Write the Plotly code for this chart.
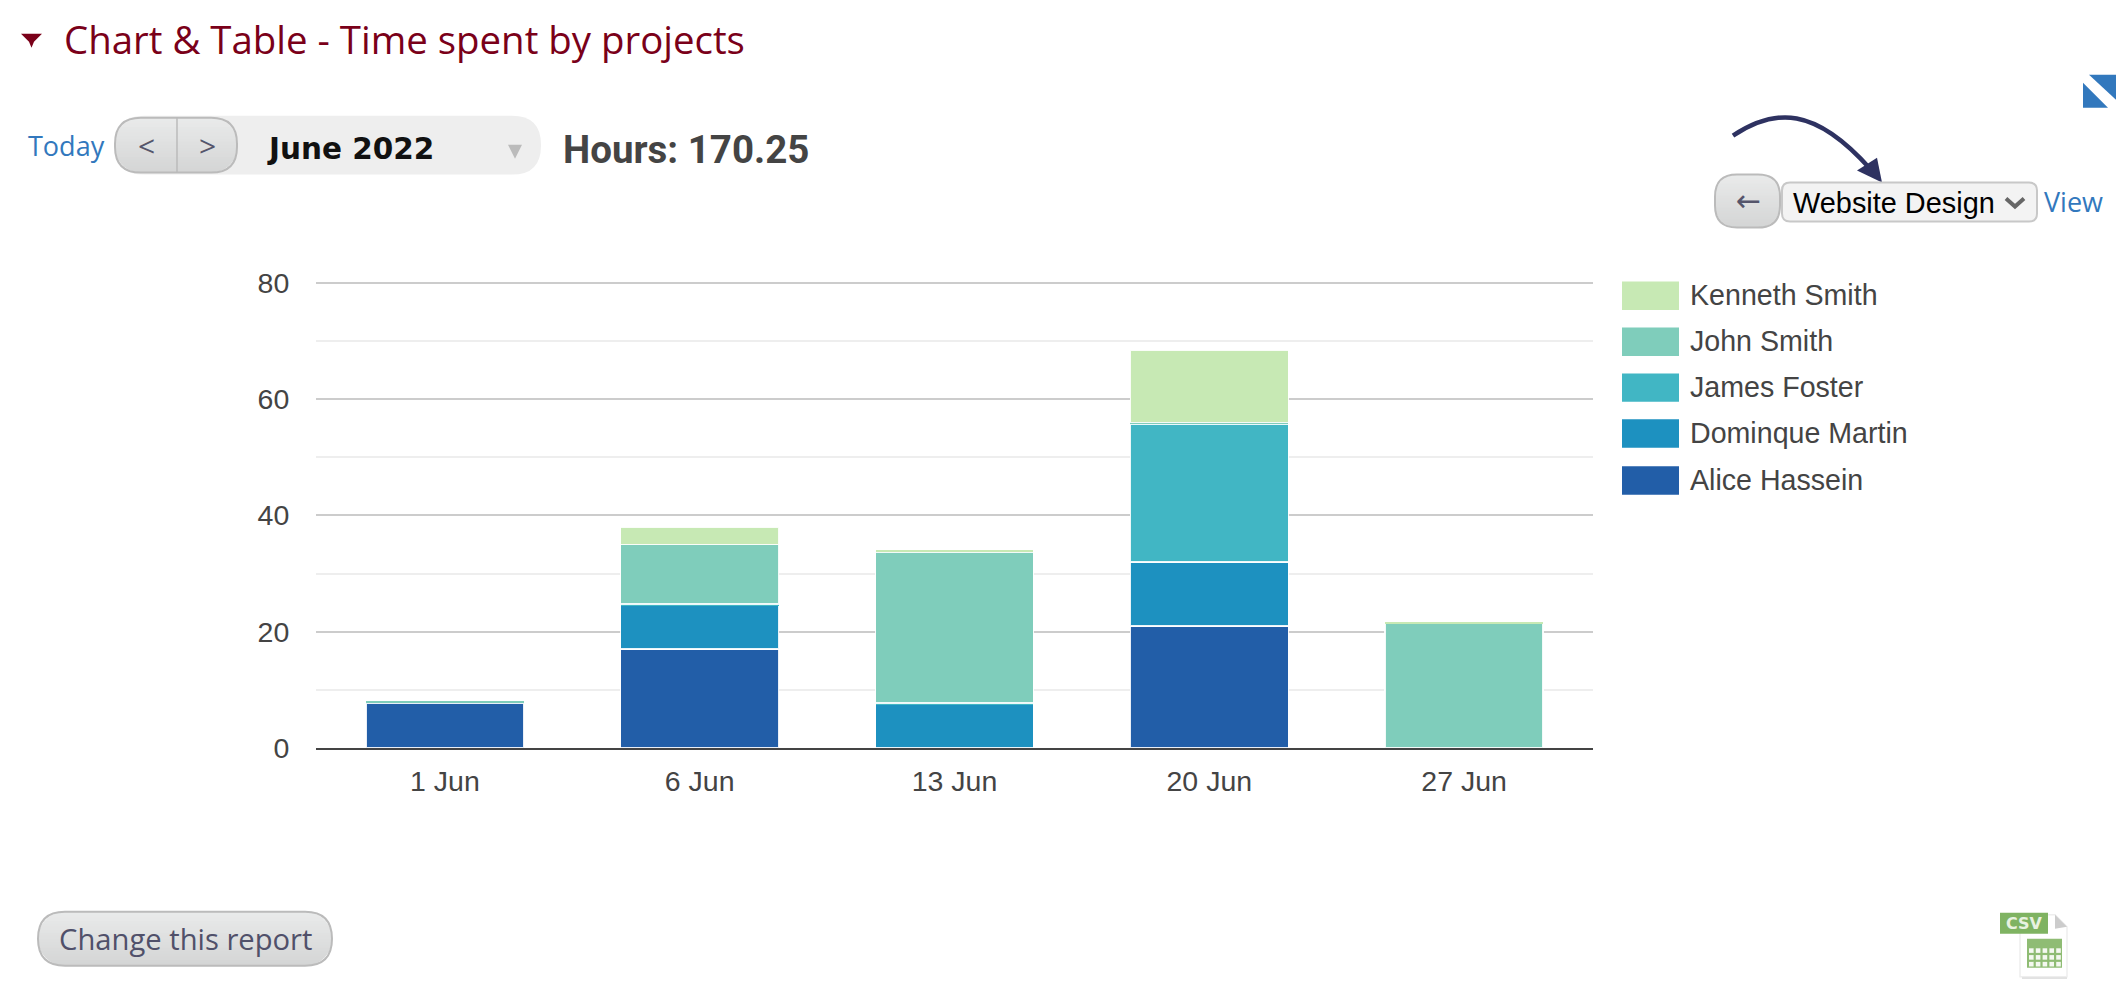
import math
import plotly.graph_objects as go

# dados
categorias = ["1 Jun", "6 Jun", "13 Jun", "20 Jun", "27 Jun"]
alice = [7.75, 17, None, 21, None]
dominique = [None, 7.5, 7.5, 11, None]
james = [None, 0.25, 0.25, 23.75, None]
john = [0.25, 10.25, 26, 0.25, 21.5]
kenneth = [None, 3, 0.25, 12.5, 0.25]

nomes = ["Alice Hassein", "Dominque Martin", "James Foster", "John Smith", "Kenneth Smith"]
cores = ["#225EA8", "#1D91C0", "#41B6C4", "#7FCDBB", "#C7E9B4"]
series = [alice, dominique, james, john, kenneth]

# area do grafico em pixels da pagina
L, R, T, B = 316, 1593, 280.5, 748
W, H = 2128, 996


def px(x):
    return (x - L) / (R - L)


def py(y):
    return (B - y) / (B - T)


def caminho(pontos, fechar=True):
    s = "M " + " L ".join(f"{px(x):.5f},{py(y):.5f}" for x, y in pontos)
    return s + (" Z" if fechar else "")


def ret_redondo(x0, y0, x1, y1, r):
    c = lambda x, y: f"{px(x):.5f},{py(y):.5f}"
    return (
        f"M {c(x0 + r, y0)} L {c(x1 - r, y0)} Q {c(x1, y0)} {c(x1, y0 + r)} "
        f"L {c(x1, y1 - r)} Q {c(x1, y1)} {c(x1 - r, y1)} "
        f"L {c(x0 + r, y1)} Q {c(x0, y1)} {c(x0, y1 - r)} "
        f"L {c(x0, y0 + r)} Q {c(x0, y0)} {c(x0 + r, y0)} Z"
    )


formas = []
textos = []


def forma(path, fill="rgba(0,0,0,0)", borda=None, larg=0):
    formas.append(dict(
        type="path", xref="paper", yref="paper", path=path, fillcolor=fill,
        line=dict(color=borda if borda else "rgba(0,0,0,0)", width=larg),
    ))


def texto(x, y, t, size, cor, fonte="Liberation Sans", anchor="left"):
    textos.append(dict(
        x=px(x), y=py(y), xref="paper", yref="paper", text=t, showarrow=False,
        xanchor=anchor, yanchor="middle", borderpad=0,
        font=dict(family=fonte, size=size, color=cor),
    ))


def recuo(y, y0, y1, r):
    # quanto o contorno arredondado entra na altura y
    d = max(r - (y - y0), r - (y1 - y), 0)
    return r - math.sqrt(max(r * r - d * d, 0))


def botao(x0, y0, x1, y1, r, borda, passo=3):
    # os botoes tem um degrade vertical, feito aqui com faixas
    y = y0
    while y < y1:
        t = (y - y0) / (y1 - y0)
        v = round(233 - t * (233 - 211))
        cor = f"rgb({v},{v + 1},{v + 1})"
        fim = min(y + passo + 1, y1)
        esq = []
        dir_ = []
        ya = y
        while ya <= fim:
            rec = recuo(ya, y0, y1, r)
            esq.append((x0 + rec, ya))
            dir_.append((x1 - rec, ya))
            ya += 1
        forma(caminho(esq + dir_[::-1]), cor)
        y += passo
    forma(ret_redondo(x0, y0, x1, y1, r), borda=borda, larg=2)


fig = go.Figure()
for nome, cor, valores in zip(nomes, cores, series):
    # segmentos muito finos ficam sem contorno, senao o branco os cobre
    contorno = [0 if v is not None and v < 1 else 1.5 for v in valores]
    fig.add_trace(go.Bar(
        x=categorias, y=valores, name=nome,
        marker=dict(color=cor, line=dict(color="rgba(255,255,255,0.9)", width=contorno)),
    ))

# <===== titulo =====>
VINHO = "#7A0019"
AZUL = "#3278BD"
BORDA_BTN = "#BBBBBB"
GLIFO = "#55556B"
forma(caminho([(21, 33), (42, 33), (34, 41), (31.5, 47), (29, 41)]), VINHO)
texto(63, 38, "Chart &amp; Table - Time spent by projects", 38.4, VINHO, "Open Sans")

# <===== linha do mes =====>
texto(27, 145, "Today", 27, AZUL, "Open Sans")
forma(ret_redondo(115, 115, 541, 174, 29), "#EEEEEE")
botao(115, 117, 237, 172, 26, BORDA_BTN)
forma(caminho([(177, 117), (177, 172)], False), borda=BORDA_BTN, larg=1.5)
texto(146, 145, "&lt;", 30, GLIFO, "Open Sans", "center")
texto(207, 145, "&gt;", 30, GLIFO, "Open Sans", "center")
texto(266, 148, "<b>June 2022</b>", 29.5, "#111111", "DejaVu Sans")
forma(caminho([(508, 144), (522, 144), (515, 158)]), "#BBBBBB")
texto(562, 149, "<b>Hours: 170.25</b>", 38.5, "#444444", "Roboto")

# <===== canto direito =====>
forma(caminho([(2089, 74), (2116, 74), (2116, 99)]), AZUL)
forma(caminho([(2083, 82), (2108, 107), (2083, 107)]), AZUL)

forma(
    f"M {px(1733):.5f},{py(135):.5f} C {px(1775):.5f},{py(107):.5f} "
    f"{px(1815):.5f},{py(106):.5f} {px(1870):.5f},{py(168):.5f}",
    borda="#2E3261", larg=4.5,
)
forma(caminho([(1877, 157), (1857, 170), (1882, 182)]), "#2E3261")

botao(1715, 174, 1780, 227, 22, BORDA_BTN)
texto(1748, 200, "←", 30, GLIFO, "DejaVu Sans", "center")
forma(ret_redondo(1782, 182, 2037, 221, 8), "#F3F3F3", "#C8C8C8", 2)
texto(1792, 202, "Website Design", 28.9, "#000000")
forma(caminho([(2006, 198), (2015, 206), (2024, 198)], False), borda="#666666", larg=4)
texto(2043, 201, "View", 27, AZUL, "Open Sans")

# <===== legenda =====>
topos = [281, 327, 373, 419, 466]
for topo, nome, cor in zip(topos, nomes[::-1], cores[::-1]):
    forma(caminho([(1622, topo), (1679, topo), (1679, topo + 28.5), (1622, topo + 28.5)]), cor)
    texto(1688.5, topo + 14, nome, 28.6, "#444444")

# <===== rodape =====>
botao(38, 912, 332, 966, 27, BORDA_BTN)
texto(58, 939, "Change this report", 29.2, "#50506A", "Open Sans")

# icone csv
forma(caminho([(2022, 974), (2067, 974), (2067, 979), (2022, 979)]), "#D8D8D8")
forma(caminho([(2020, 915), (2055, 915), (2067, 927), (2067, 977), (2020, 977)]), "#FFFFFF", "#EEEEEE", 1.5)
forma(caminho([(2055, 915), (2067, 927), (2055, 929)]), "#CCCCCC")
forma(caminho([(2027, 939), (2062, 939), (2062, 968), (2027, 968)]), "#8FBC74")
for linha in range(3):
    for coluna in range(5):
        x0 = 2029 + coluna * 6.8
        y0 = 948.5 + linha * 6.8
        forma(caminho([(x0, y0), (x0 + 4.6, y0), (x0 + 4.6, y0 + 4.6), (x0, y0 + 4.6)]), "#F4F8F0")
forma(caminho([(2000, 913), (2048, 913), (2048, 934), (2000, 934)]), "#7FB362")
texto(2024, 923.5, "<b>CSV</b>", 16, "#E8F2E0", "DejaVu Sans", "center")

fig.update_layout(
    barmode="stack",
    bargap=0.38,
    width=W,
    height=H,
    margin=dict(l=L, r=W - R, t=T, b=H - B, autoexpand=False),
    paper_bgcolor="white",
    plot_bgcolor="white",
    showlegend=False,
    font=dict(family="Liberation Sans", size=28.5, color="#444444"),
    shapes=formas,
    annotations=textos,
    xaxis=dict(
        range=[-0.506, 4.506],
        showgrid=False, showline=True, linecolor="#444444", linewidth=2,
        ticks="outside", ticklen=7, tickcolor="rgba(0,0,0,0)",
    ),
    yaxis=dict(
        # um pouco acima de 80 para a linha de grade do topo aparecer
        range=[0, 80.34], tick0=0, dtick=20, gridcolor="#CCCCCC", gridwidth=2, zeroline=False,
        ticks="outside", ticklen=20, tickcolor="rgba(0,0,0,0)",
        minor=dict(dtick=10, showgrid=True, gridcolor="#EEEEEE", gridwidth=2),
    ),
)

fig.write_html(
    "out.html",
    config=dict(displayModeBar=False),
    post_script="document.body.style.margin='0';document.body.style.overflow='hidden';",
)
